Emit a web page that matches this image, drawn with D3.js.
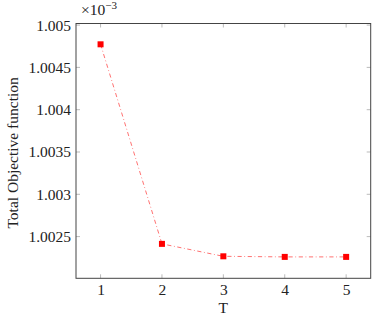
<!DOCTYPE html>
<html>
<head>
<meta charset="utf-8">
<script src="https://cdn.jsdelivr.net/npm/d3@7"></script>
<style>
  body { margin: 0; background: #fff; }
  svg { display: block; }
  text { font-family: "Liberation Serif", "DejaVu Serif", serif; fill: #222; }
</style>
</head>
<body>
<div id="chart"></div>
<script>
'use strict';

// data (values in units of 1e-3)
var periods = [1, 2, 3, 4, 5];
var objective = [1.004773, 1.002414, 1.002267, 1.00226, 1.00226];
var yTicks = [1.0025, 1.003, 1.0035, 1.004, 1.0045, 1.005];
var xLabel = 'T';
var yLabel = 'Total Objective function';

var width = 373,
  height = 319,
  margin = { top: 23.5, right: 2.3, bottom: 40.7, left: 76 };

var svg = d3.select('#chart').append('svg')
  .attr('width', width)
  .attr('height', height);

var x = d3.scaleLinear()
  .domain([0.6, 5.4])
  .range([margin.left, width - margin.right]);

var y = d3.scaleLinear()
  .domain([1.002007, 1.005019])
  .range([height - margin.bottom, margin.top]);

var x0 = x.range()[0], x1 = x.range()[1],
  y0 = y.range()[0], y1 = y.range()[1];

var fmt = d => String(+d.toFixed(4));

// inward tick marks on all four sides
var ticks = svg.append('g').attr('stroke', '#aaa').attr('stroke-width', 0.8);
periods.forEach(function (t) {
  ticks.append('line').attr('x1', x(t)).attr('x2', x(t)).attr('y1', y0).attr('y2', y0 - 4);
  ticks.append('line').attr('x1', x(t)).attr('x2', x(t)).attr('y1', y1).attr('y2', y1 + 4);
});
yTicks.forEach(function (v) {
  ticks.append('line').attr('x1', x0).attr('x2', x0 + 4).attr('y1', y(v)).attr('y2', y(v));
  ticks.append('line').attr('x1', x1).attr('x2', x1 - 4).attr('y1', y(v)).attr('y2', y(v));
});

// axes via d3, only labels kept
var xAxis = svg.append('g')
  .attr('transform', 'translate(0,' + y0 + ')')
  .call(d3.axisBottom(x).tickValues(periods).tickSize(0).tickPadding(6).tickFormat(d3.format('d')));
var yAxis = svg.append('g')
  .attr('transform', 'translate(' + x0 + ',0)')
  .call(d3.axisLeft(y).tickValues(yTicks).tickSize(0).tickPadding(5).tickFormat(fmt));
[xAxis, yAxis].forEach(function (a) {
  a.select('.domain').remove();
  a.attr('font-family', null).attr('font-size', null);
  a.selectAll('text')
    .style('font-family', '"Liberation Serif", serif')
    .style('font-size', '15.5px')
    .attr('fill', '#222');
});

// frame
svg.append('rect')
  .attr('x', x0).attr('y', y1)
  .attr('width', x1 - x0).attr('height', y0 - y1)
  .attr('fill', 'none')
  .attr('stroke', '#444')
  .attr('stroke-width', 1);

// series line
var line = d3.line()
  .x((d, i) => x(periods[i]))
  .y(d => y(d));

svg.append('path')
  .datum(objective)
  .attr('d', line)
  .attr('fill', 'none')
  .attr('stroke', '#ff3333')
  .attr('stroke-width', 0.7)
  .attr('stroke-dasharray', '4.2,2.6,0.8,2.6');

svg.selectAll('.mark')
  .data(objective)
  .enter().append('rect')
  .attr('class', 'mark')
  .attr('x', (d, i) => x(periods[i]) - 3)
  .attr('y', d => y(d) - 3)
  .attr('width', 6)
  .attr('height', 6)
  .attr('fill', '#ff0000');

// axis labels
svg.append('text')
  .attr('x', (x0 + x1) / 2)
  .attr('y', 313)
  .attr('text-anchor', 'middle')
  .style('font-size', '15.5px')
  .text(xLabel);

svg.append('text')
  .attr('transform', 'translate(18,' + ((y0 + y1) / 2 + 2) + ') rotate(-90)')
  .attr('text-anchor', 'middle')
  .style('font-size', '15.5px')
  .text(yLabel);

// exponent label
var expo = svg.append('text')
  .attr('x', 81)
  .attr('y', 15)
  .style('font-size', '15.5px');
expo.append('tspan').text('\u00d710');
expo.append('tspan')
  .attr('dy', -6)
  .style('font-size', '11px')
  .text('\u22123');
</script>
</body>
</html>
